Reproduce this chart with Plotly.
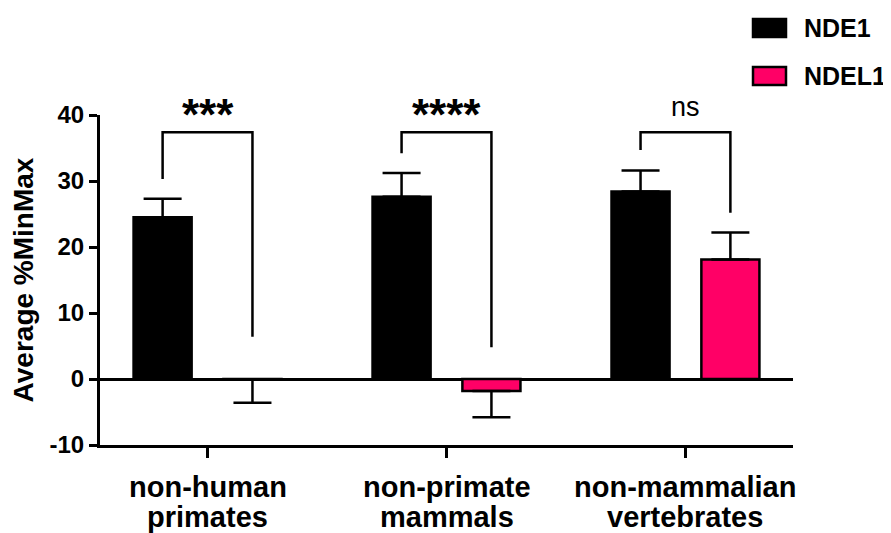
import plotly.graph_objects as go

categories = [["non-human", "primates"], ["non-primate", "mammals"], ["non-mammalian", "vertebrates"]]
series_names = ["NDE1", "NDEL1"]
nde1_mean = [24.5, 27.6, 28.4]
nde1_sem = [2.8, 3.6, 3.2]
ndel1_mean = [-0.1, -1.8, 18.1]
ndel1_sem = [3.5, 4.0, 4.1]
sig_labels = ["***", "****", "ns"]
bracket_top = [37.4, 37.4, 37.4]
bracket_left_bottom = [30.3, 34.2, 34.7]
bracket_right_bottom = [6.4, 4.8, 25.2]
y_ticks = [-10, 0, 10, 20, 30, 40]

FONT = "Liberation Sans, Arial, sans-serif"
BAR_W = 0.243
OFF = 0.188
xs = list(range(len(categories)))

# plot area in page pixels: x 100..793, y 115..445 (page body has 8px margin)
PX0, PW, PY1, PH = 100, 693, 445, 330


def px_x(X):
    return (X - PX0) / PW


def px_y(Y):
    return (PY1 - Y) / PH


def one_sided(means, sems):
    up = [s if m >= 0 else 0 for m, s in zip(means, sems)]
    down = [s if m < 0 else 0 for m, s in zip(means, sems)]
    return up, down


fig = go.Figure()
for name, means, sems, color, sign in [
    (series_names[0], nde1_mean, nde1_sem, "#000000", -1),
    (series_names[1], ndel1_mean, ndel1_sem, "#FF0066", 1),
]:
    up, down = one_sided(means, sems)
    fig.add_trace(go.Bar(
        x=xs, y=means, name=name,
        width=BAR_W, offset=sign * OFF - BAR_W / 2,
        marker=dict(color=color, line=dict(color="black", width=2.5)),
        error_y=dict(type="data", symmetric=False, array=up, arrayminus=down,
                     color="black", thickness=2.5, width=19),
        showlegend=False,
    ))

for i, c in enumerate(xs):
    fig.add_trace(go.Scatter(
        x=[c - OFF, c - OFF, c + OFF, c + OFF],
        y=[bracket_left_bottom[i], bracket_top[i], bracket_top[i], bracket_right_bottom[i]],
        mode="lines", line=dict(color="black", width=2.5), showlegend=False,
        hoverinfo="skip",
    ))
    is_ns = sig_labels[i] == "ns"
    fig.add_annotation(
        x=c, y=bracket_top[i] + (1.3 if is_ns else -1.4), xref="x", yref="y",
        text=sig_labels[i] if is_ns else "<b>%s</b>" % sig_labels[i], showarrow=False,
        yanchor="bottom",
        font=dict(family=FONT, size=27 if is_ns else 44, color="black"),
    )
    # two-line category label under the axis
    for k, line in enumerate(categories[i]):
        fig.add_annotation(
            x=c, y=px_y(487 + 30 * k), xref="x", yref="paper",
            text="<b>%s</b>" % line, showarrow=False, yanchor="middle",
            font=dict(family=FONT, size=29, color="black"),
        )

# manual legend
legend_items = [(series_names[0], "#000000"), (series_names[1], "#FF0066")]
for j, (name, color) in enumerate(legend_items):
    yc = 28 + j * 48
    fig.add_shape(type="rect", xref="paper", yref="paper",
                  x0=px_x(753), x1=px_x(786),
                  y0=px_y(yc + 9), y1=px_y(yc - 9),
                  fillcolor=color, line=dict(color="black", width=2.5))
    fig.add_annotation(xref="paper", yref="paper", x=px_x(802),
                       y=px_y(yc), xanchor="left", yanchor="middle",
                       text="<b>%s</b>" % name, showarrow=False,
                       font=dict(family=FONT, size=25, color="black"))

fig.update_layout(
    width=883, height=525,
    margin=dict(l=92, r=98, t=107, b=88),
    plot_bgcolor="white", paper_bgcolor="white",
    barmode="overlay",
    font=dict(family=FONT, color="black"),
    xaxis=dict(
        range=[-0.45, 2.45], tickmode="array", tickvals=xs, showticklabels=False,
        showline=True, linewidth=3, linecolor="black", ticks="outside", ticklen=10, tickwidth=3,
        tickcolor="black", showgrid=False, zeroline=False,
    ),
    yaxis=dict(
        range=[-10, 40], tickmode="array", tickvals=y_ticks,
        ticktext=["<b>%d</b>" % v for v in y_ticks],
        showline=True, linewidth=3, linecolor="black", ticks="outside", ticklen=8, tickwidth=3,
        tickcolor="black", showgrid=False,
        zeroline=True, zerolinewidth=3, zerolinecolor="black",
        tickfont=dict(family=FONT, size=24, color="black"),
        title=dict(text="<b>Average %MinMax</b>", font=dict(family=FONT, size=28, color="black"), standoff=10),
    ),
)

fig.write_html("out.html")
